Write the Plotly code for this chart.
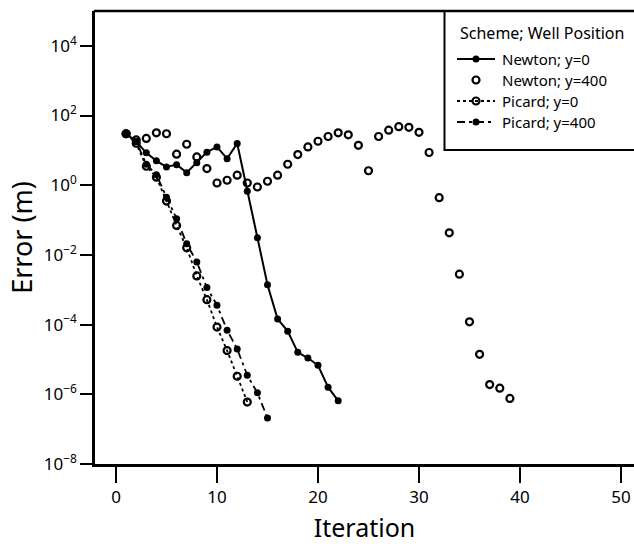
import plotly.graph_objects as go

# Convergence history: error (m) versus iteration for each scheme / well position
newton_y0_iter = list(range(1, 23))
newton_y0_err = [30, 18, 8.5, 5.0, 3.35, 3.9, 2.3, 4.4, 8.9, 12.6, 5.8, 15.7,
                 0.67, 0.031, 1.4e-3, 1.45e-4, 6.5e-5, 1.6e-5, 1.1e-5, 6.8e-6,
                 1.6e-6, 6.5e-7]

newton_y400_iter = list(range(1, 40))
newton_y400_err = [30, 20, 22, 32, 30, 7.8, 15, 6.5, 3.0, 1.16, 1.39, 1.94,
                   1.16, 0.89, 1.3, 1.94, 4.0, 7.6, 12.6, 18.3, 25, 32, 28,
                   14, 2.6, 25, 38, 48, 46, 33, 8.7, 0.44, 0.043, 2.8e-3,
                   1.2e-4, 1.4e-5, 1.9e-6, 1.5e-6, 7.6e-7]

picard_y0_iter = list(range(1, 14))
picard_y0_err = [30, 16, 3.5, 1.7, 0.35, 0.07, 0.016, 2.5e-3, 5.2e-4, 8.5e-5,
                 1.8e-5, 3.3e-6, 6.0e-7]

picard_y400_iter = list(range(1, 16))
picard_y400_err = [30, 18, 4.0, 2.0, 0.45, 0.11, 0.021, 6.3e-3, 1.16e-3,
                   3.6e-4, 6.9e-5, 2.0e-5, 3.5e-6, 1.1e-6, 2.1e-7]

series_names = ["Newton; y=0", "Newton; y=400", "Picard; y=0", "Picard; y=400"]
legend_title = "Scheme; Well Position"

x_ticks = [0, 10, 20, 30, 40, 50]
y_tick_exp = [4, 2, 0, -2, -4, -6, -8]

FONT = "Noto Sans"
INK = "black"

# Plot area in pixels
W, H = 634, 544
L, R, T, B = 95, 0, 11, 80
PW, PH = W - L - R, H - T - B

# Per-series styling: (mode, line dash, marker symbol)
styles = [
    dict(mode="lines+markers", dash="solid", symbol="circle"),
    dict(mode="markers", dash=None, symbol="circle-open"),
    dict(mode="lines+markers", dash="3px,3px", symbol="circle-open"),
    dict(mode="lines+markers", dash="8px,4px,3px,4px", symbol="circle"),
]


def marker_for(sym):
    if sym == "circle-open":
        return dict(symbol=sym, size=7, color=INK, line=dict(width=2.2, color=INK))
    return dict(symbol=sym, size=7, color=INK)


def px_x(p):
    return (p - L) / PW


def px_y(p):
    return (H - B - p) / PH


fig = go.Figure()

data = [
    (newton_y0_iter, newton_y0_err),
    (newton_y400_iter, newton_y400_err),
    (picard_y0_iter, picard_y0_err),
    (picard_y400_iter, picard_y400_err),
]

for (xs, ys), name, st in zip(data, series_names, styles):
    kw = dict(x=xs, y=ys, name=name, mode=st["mode"], showlegend=False,
              marker=marker_for(st["symbol"]))
    if st["dash"] is not None:
        kw["line"] = dict(color=INK, width=1.8 if st["dash"] != "solid" else 2,
                          dash=st["dash"])
    fig.add_trace(go.Scatter(**kw))

# Top frame line, running off the right edge
fig.add_shape(type="line", xref="paper", yref="paper",
              x0=px_x(L - 1.2), x1=1.2, y0=1, y1=1,
              line=dict(color=INK, width=2.5))

# Key box: runs off the right edge, so only its left and bottom sides show
key_left, key_bottom = 444.5, 150
row_y = [59, 80, 101, 122]
sample_x0, sample_x1, sample_mid = 457, 495, 476
text_x = 500

fig.add_shape(type="rect", xref="paper", yref="paper",
              x0=px_x(key_left), x1=1.2, y0=px_y(key_bottom), y1=1,
              line=dict(width=0), fillcolor="white", layer="below")
fig.add_shape(type="line", xref="paper", yref="paper",
              x0=px_x(key_left), x1=px_x(key_left),
              y0=px_y(key_bottom), y1=1,
              line=dict(color=INK, width=2))
fig.add_shape(type="line", xref="paper", yref="paper",
              x0=px_x(key_left - 1), x1=1.2,
              y0=px_y(key_bottom), y1=px_y(key_bottom),
              line=dict(color=INK, width=2))

fig.add_annotation(xref="x2", yref="y2", x=458, y=33, text=legend_title,
                   showarrow=False, xanchor="left", yanchor="middle",
                   font=dict(family=FONT, size=16, color=INK))

for name, st, ry in zip(series_names, styles, row_y):
    if st["dash"] is not None:
        fig.add_trace(go.Scatter(
            x=[sample_x0, sample_x1], y=[ry, ry], mode="lines",
            xaxis="x2", yaxis="y2", showlegend=False, hoverinfo="skip",
            line=dict(color=INK, width=1.8 if st["dash"] != "solid" else 2,
                      dash=st["dash"]),
        ))
    fig.add_trace(go.Scatter(
        x=[sample_mid], y=[ry], mode="markers",
        xaxis="x2", yaxis="y2", showlegend=False, hoverinfo="skip",
        marker=marker_for(st["symbol"]),
    ))
    fig.add_annotation(xref="x2", yref="y2", x=text_x, y=ry, text=name,
                       showarrow=False, xanchor="left", yanchor="middle",
                       font=dict(family=FONT, size=15, color=INK))

fig.update_layout(
    width=W, height=H,
    margin=dict(l=L, r=R, t=T, b=B),
    paper_bgcolor="white", plot_bgcolor="white",
    font=dict(family=FONT, color=INK, size=17),
    showlegend=False,
    xaxis=dict(
        range=[-2.08, 51.29],
        tickvals=x_ticks,
        ticktext=[str(v) for v in x_ticks],
        ticks="outside", ticklen=16, tickwidth=2, tickcolor=INK,
        showline=True, linecolor=INK, linewidth=2.5, mirror=False,
        showgrid=False, zeroline=False,
        tickfont=dict(size=17),
        title=dict(text="Iteration", font=dict(size=25), standoff=16),
    ),
    yaxis=dict(
        type="log",
        range=[-8, 5],
        tickvals=[10.0 ** e for e in y_tick_exp],
        ticktext=["10<sup>%s</sup>" % (str(e).replace("-", "\u2212")) for e in y_tick_exp],
        ticks="outside", ticklen=12, tickwidth=2, tickcolor=INK,
        showline=True, linecolor=INK, linewidth=2.5, mirror=False,
        showgrid=False, zeroline=False,
        tickfont=dict(size=17),
        title=dict(text="Error (m)", font=dict(size=27), standoff=4),
    ),
    xaxis2=dict(range=[L, W - R], overlaying="x", anchor="y2", visible=False,
                showline=False, fixedrange=True),
    yaxis2=dict(range=[H - B, T], overlaying="y", anchor="x2", visible=False,
                showline=False, fixedrange=True),
)

fig.write_html("out.html")
